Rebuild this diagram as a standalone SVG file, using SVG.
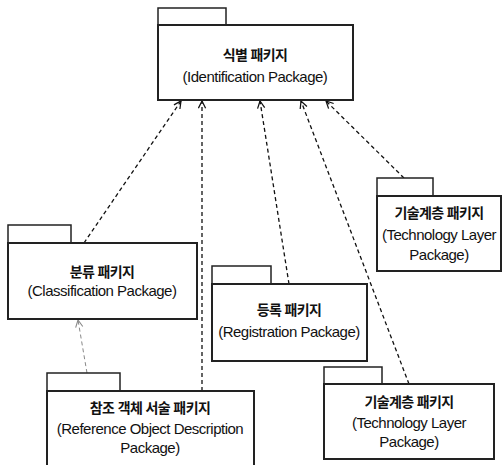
<svg xmlns="http://www.w3.org/2000/svg" width="504" height="465" viewBox="0 0 504 465">
  <style>
    .tab { fill: #fff; stroke: #222; stroke-width: 1.5; }
    .body { fill: #fff; stroke: #222; stroke-width: 2; }
    .ko { font-family: "Liberation Sans", "Noto Sans CJK KR", sans-serif; font-size: 14px; font-weight: bold; fill: #111; text-anchor: middle; letter-spacing: -0.6px; }
    .en { font-family: "Liberation Sans", "Noto Sans CJK KR", sans-serif; font-size: 15px; fill: #111; text-anchor: middle; letter-spacing: -0.5px; }
    .dep { fill: none; stroke: #111; stroke-width: 1.3; stroke-dasharray: 4 3; marker-end: url(#open); }
    .dep-gray { fill: none; stroke: #888; stroke-width: 1; stroke-dasharray: 4 3; marker-end: url(#open-gray); }
  </style>
  <defs>
    <marker id="open" viewBox="0 0 10 10" refX="9" refY="5" markerWidth="9" markerHeight="9" markerUnits="userSpaceOnUse" orient="auto">
      <path d="M1,1 L9,5 L1,9" fill="none" stroke="#111" stroke-width="1.4"/>
    </marker>
    <marker id="open-gray" viewBox="0 0 10 10" refX="9" refY="5" markerWidth="9" markerHeight="9" markerUnits="userSpaceOnUse" orient="auto">
      <path d="M1,1 L9,5 L1,9" fill="none" stroke="#888" stroke-width="1.2"/>
    </marker>
  </defs>

  <!-- dependency connectors -->
  <g id="connectors">
    <line class="dep" x1="84" y1="243" x2="181" y2="101"/>
    <line class="dep" x1="202" y1="391" x2="202" y2="101"/>
    <line class="dep" x1="289" y1="284" x2="260" y2="101"/>
    <line class="dep" x1="409" y1="384" x2="301" y2="101"/>
    <line class="dep" x1="404" y1="178" x2="326" y2="101"/>
    <line class="dep-gray" x1="87" y1="373" x2="78" y2="320"/>
  </g>

  <g id="identification">
    <rect class="tab" x="158" y="8" width="68" height="17"/>
    <rect class="body" x="158" y="25" width="195" height="75"/>
    <text class="ko" x="255" y="60">식별 패키지</text>
    <text class="en" x="255" y="82">(Identification Package)</text>
  </g>

  <g id="classification">
    <rect class="tab" x="8" y="225" width="63" height="18"/>
    <rect class="body" x="8" y="243" width="189" height="76"/>
    <text class="ko" x="102" y="277">분류 패키지</text>
    <text class="en" x="102" y="296">(Classification Package)</text>
  </g>

  <g id="registration">
    <rect class="tab" x="212" y="266" width="59" height="18"/>
    <rect class="body" x="212" y="284" width="155" height="77"/>
    <text class="ko" x="289" y="315">등록 패키지</text>
    <text class="en" x="289" y="337">(Registration Package)</text>
  </g>

  <g id="technology-layer-upper">
    <rect class="tab" x="377" y="178" width="56" height="18"/>
    <rect class="body" x="377" y="196" width="124" height="75"/>
    <text class="ko" x="439" y="218">기술계층 패키지</text>
    <text class="en" x="439" y="240">(Technology Layer</text>
    <text class="en" x="439" y="260">Package)</text>
  </g>

  <g id="reference-object-description">
    <rect class="tab" x="47" y="373" width="73" height="18"/>
    <rect class="body" x="47" y="391" width="207" height="80"/>
    <text class="ko" x="150" y="413">참조 객체 서술 패키지</text>
    <text class="en" x="150" y="434">(Reference Object Description</text>
    <text class="en" x="150" y="453">Package)</text>
  </g>

  <g id="technology-layer-lower">
    <rect class="tab" x="324" y="367" width="58" height="17"/>
    <rect class="body" x="324" y="384" width="170" height="75"/>
    <text class="ko" x="409" y="407">기술계층 패키지</text>
    <text class="en" x="409" y="428">(Technology Layer</text>
    <text class="en" x="409" y="447">Package)</text>
  </g>
</svg>
